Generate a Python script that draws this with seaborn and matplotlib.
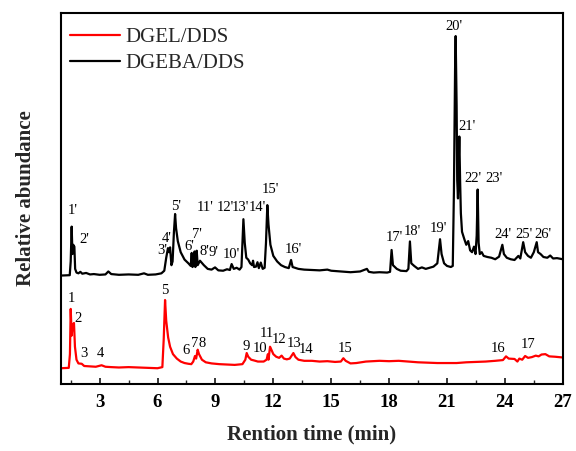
import matplotlib
matplotlib.use("Agg")
import matplotlib.pyplot as plt
import seaborn as sns
import pandas as pd
from matplotlib.ticker import MultipleLocator

# ---- data (time in min, relative abundance, arbitrary units) ----
dgeba_time = [1.0, 1.45, 1.50, 1.55, 1.59, 1.63, 1.69, 1.73, 1.8, 1.9, 2.0, 2.1, 2.3, 2.5, 2.7, 3.0,
              3.3, 3.45, 3.6, 4.0, 4.5, 5.0, 5.3, 5.5, 5.9, 6.2, 6.35, 6.45, 6.54, 6.6, 6.65, 6.72,
              6.78, 6.85, 6.91, 6.96, 7.05, 7.2, 7.4, 7.6, 7.72, 7.77, 7.81, 7.88, 7.92, 7.96, 8.03,
              8.08, 8.2, 8.4, 8.6, 8.8, 8.98, 9.15, 9.4, 9.6, 9.75, 9.84, 9.95, 10.1, 10.25, 10.35,
              10.45, 10.52, 10.6, 10.7, 10.8, 10.9, 10.95, 11.0, 11.1, 11.18, 11.25, 11.35, 11.45,
              11.55, 11.62, 11.69, 11.75, 11.85, 12.0, 12.2, 12.4, 12.6, 12.8, 12.92, 13.0, 13.3,
              13.6, 14.0, 14.4, 14.8, 15.0, 15.5, 16.0, 16.5, 16.85, 16.95, 17.2, 17.5, 17.9, 18.05,
              18.13, 18.2, 18.4, 18.6, 18.9, 19.0, 19.08, 19.15, 19.3, 19.5, 19.7, 19.9, 20.1, 20.3,
              20.5, 20.64, 20.72, 20.85, 21.0, 21.2, 21.3, 21.36, 21.42, 21.45, 21.5, 21.53, 21.57,
              21.6, 21.64, 21.68, 21.72, 21.78, 21.9, 22.0, 22.1, 22.2, 22.3, 22.4, 22.48, 22.54,
              22.59, 22.64, 22.7, 22.8, 22.9, 23.1, 23.3, 23.5, 23.7, 23.87, 23.95, 24.1, 24.3, 24.5,
              24.7, 24.8, 24.95, 25.05, 25.2, 25.35, 25.5, 25.65, 25.72, 25.85, 26.0, 26.2, 26.35,
              26.5, 26.7, 27.0]
dgeba_abund = [29.2, 29.3, 33, 42.4, 35, 37.5, 37, 31, 30.0, 29.8, 30.2, 29.7, 29.9, 29.5, 29.6, 29.4,
               29.5, 30.3, 29.6, 29.4, 29.5, 29.4, 29.8, 29.4, 29.5, 29.8, 30.5, 34, 36.6, 35.5, 36.8, 32,
               33, 41, 45.8, 42, 38.5, 35.5, 33.5, 32.5, 31.8, 35.3, 31.5, 32, 35.7, 31.5, 35.9,
               32, 33.2, 32.0, 31.0, 30.8, 31.4, 30.6, 30.5, 30.9, 30.7, 32.3, 31.0, 31.3, 30.8, 31.5,
               44.4, 38, 34, 33.5, 32.5, 32.0, 33.2, 31.5, 31.6, 32.8, 31.2, 32.7, 31.0,
               31.3, 38, 48.2, 43, 37.5, 34.5, 33.0, 32.0, 31.5, 31.2, 33.4, 31.5, 31.0,
               30.8, 30.7, 30.6, 30.8, 30.5, 30.3, 30.1, 30.3, 31.0, 30.2, 30.0, 30.1, 30.0, 30.2,
               36.1, 32.0, 31.0, 30.5, 30.4, 31, 38.4, 32.5, 31.8, 31.0, 31.4, 31.0, 31.3, 31.6,
               32.5, 39.0, 35, 32.5, 31.8, 31.5, 31.8, 52, 85, 93.8, 75, 55, 50,
               58, 66.7, 55, 46, 41, 39, 37.5, 38.5, 36, 35.5, 37.0, 35, 40,
               52.4, 38, 35, 35.5, 34.5, 34.2, 34.0, 33.6, 34.3, 37.5, 35, 34, 33.6, 33.4,
               34.5, 33.8, 38.2, 35.5, 34.5, 34.0, 35.5, 38.2, 35.5, 35.0, 34.2, 34.0, 34.6,
               33.8, 33.9, 33.6]

dgel_time = [1.0, 1.4, 1.46, 1.50, 1.55, 1.6, 1.67, 1.72, 1.8, 1.9, 2.07, 2.2, 2.5, 2.8, 3.1, 3.3,
             3.6, 4.0, 4.5, 5.0, 5.5, 6.0, 6.25, 6.32, 6.39, 6.45, 6.55, 6.65, 6.8, 7.0, 7.2, 7.4,
             7.6, 7.75, 7.85, 7.94, 8.0, 8.08, 8.15, 8.3, 8.5, 8.8, 9.2, 9.6, 10.0, 10.4, 10.55,
             10.62, 10.7, 10.85, 11.0, 11.2, 11.5, 11.65, 11.72, 11.75, 11.83, 11.9, 12.0, 12.15,
             12.3, 12.43, 12.55, 12.7, 12.85, 13.04, 13.15, 13.3, 13.6, 14.0, 14.4, 14.8, 15.2,
             15.5, 15.63, 15.75, 16.0, 16.3, 16.8, 17.5, 18.0, 18.5, 19.0, 19.5, 20.0, 20.5, 21.0,
             21.5, 22.0, 22.5, 23.0, 23.5, 23.9, 24.06, 24.2, 24.5, 24.65, 24.75, 24.9, 25.05,
             25.2, 25.4, 25.6, 25.75, 25.9, 26.1, 26.3, 26.6, 27.0]
dgel_abund = [4.2, 4.3, 8, 20.2, 13, 16.0, 16.4, 10, 6.5, 5.5, 5.4, 4.8, 4.7, 4.6, 5.0, 4.6,
              4.5, 4.4, 4.5, 4.4, 4.3, 4.2, 4.5, 12, 22.6, 17, 12.5, 10, 8.0, 6.8, 6.0, 5.6,
              5.4, 5.3, 6.0, 7.5, 6.8, 9.2, 8.0, 6.5, 5.8, 5.5, 5.3, 5.2, 5.1, 5.3, 6.5,
              8.3, 7.3, 6.5, 6.3, 6.0, 6.0, 6.5, 8.0, 6.5, 10.0, 9.2, 8.0, 7.3,
              7.0, 7.6, 6.8, 6.6, 6.8, 8.3, 7.2, 6.5, 6.2, 6.2, 6.0, 6.1, 5.9,
              6.0, 6.9, 6.2, 5.5, 5.6, 6.0, 6.2, 6.1, 6.2, 6.0, 5.8, 5.7, 5.6, 5.6,
              5.6, 5.8, 5.9, 6.0, 6.2, 6.4, 7.4, 6.8, 6.7, 6.0, 6.8, 6.5, 7.5,
              7.0, 7.2, 7.6, 7.4, 7.9, 8.0, 7.4, 7.3, 7.1]

# peak labels (text, label x in min, label y in abundance units)
dgeba_labels = ["1'", "2'", "3'", "4'", "5'", "6'", "7'", "8'", "9'", "10'", "11'", "12'", "13'",
                "14'", "15'", "16'", "17'", "18'", "19'", "20'", "21'", "22'", "23'", "24'", "25'", "26'"]
dgeba_label_x = [1.58, 2.21, 6.25, 6.48, 6.94, 7.63, 8.03, 8.41, 8.89, 9.84, 8.46, 9.50, 10.31,
                 11.17, 11.83, 13.04, 18.25, 19.20, 20.55, 21.38, 22.04, 22.36, 23.45, 23.89, 24.99, 25.99]
dgeba_label_y = [46.7, 38.8, 35.9, 39.3, 47.8, 37.0, 40.2, 35.7, 35.4, 35.0, 47.6, 47.6, 47.6,
                 47.6, 52.3, 36.3, 39.5, 41.1, 41.8, 96.3, 69.5, 55.4, 55.4, 40.4, 40.4, 40.4]

dgel_labels = [str(i) for i in range(1, 18)]
dgel_label_x = [1.52, 1.90, 2.16, 3.02, 6.39, 7.48, 7.94, 8.29, 10.62, 11.31, 11.66, 12.30, 13.08,
                13.70, 15.72, 23.66, 25.21]
dgel_label_y = [23.1, 17.7, 8.3, 8.3, 25.3, 8.9, 11.0, 11.0, 10.1, 9.6, 13.7, 12.0, 11.0,
                9.2, 9.4, 9.4, 10.5]

series_names = ["DGEL/DDS", "DGEBA/DDS"]
series_colors = ["#ff0000", "#000000"]

# ---- build tidy table ----
df = pd.concat([
    pd.DataFrame({"time": dgel_time, "abund": dgel_abund, "sample": series_names[0]}),
    pd.DataFrame({"time": dgeba_time, "abund": dgeba_abund, "sample": series_names[1]}),
], ignore_index=True)

sns.set_theme(style="white")
plt.rcParams["font.family"] = ["Liberation Serif", "DejaVu Serif"]

fig = plt.figure(figsize=(5.76, 4.51), dpi=100)
ax = fig.add_axes([0.106, 0.149, 0.871, 0.822])

sns.lineplot(data=df, x="time", y="abund", hue="sample", hue_order=series_names,
             palette=series_colors, estimator=None, sort=False, linewidth=1.6, ax=ax)

for t, x, y in zip(dgeba_labels, dgeba_label_x, dgeba_label_y):
    ax.text(x, y, t, ha="center", va="center", fontsize=10.5, color="black")
for t, x, y in zip(dgel_labels, dgel_label_x, dgel_label_y):
    ax.text(x, y, t, ha="center", va="center", fontsize=10.5, color="black")

ax.set_xlim(1.0, 27.0)
ax.set_ylim(0, 100)
ax.xaxis.set_major_locator(MultipleLocator(3))
ax.xaxis.set_minor_locator(MultipleLocator(1.5))
ax.set_yticks([])
ax.tick_params(axis="x", which="major", direction="in", length=4, width=1.1,
               bottom=True, top=False, pad=7, labelsize=13.5, colors="black")
ax.tick_params(axis="x", which="minor", direction="in", length=3, width=1.0,
               bottom=True, top=False)
for lab in ax.get_xticklabels():
    lab.set_fontweight("bold")

for sp in ax.spines.values():
    sp.set_visible(True)
    sp.set_color("black")
    sp.set_linewidth(1.5)

ax.set_xlabel("Rention time (min)", fontsize=15, fontweight="bold", labelpad=10)
ax.set_ylabel("Relative abundance", fontsize=15, fontweight="bold", labelpad=18)

leg = ax.legend(loc="upper left", bbox_to_anchor=(-0.012, 1.0), frameon=False, fontsize=15,
                handlelength=2.4, handletextpad=0.3, labelspacing=0.3, borderaxespad=0.3,
                title=None)
for line in leg.get_lines():
    line.set_linewidth(1.6)

fig.savefig("out.png", dpi=100, facecolor="white")
